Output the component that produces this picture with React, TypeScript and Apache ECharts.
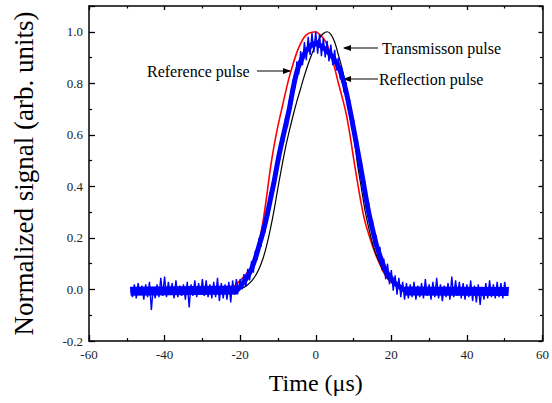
import React, { useEffect, useRef } from "react";
import * as echarts from "echarts";

// X axis ticks (µs)
const xTickMin = -60;
const xTickMax = 60;
const xTickStep = 20;
// Y axis ticks
const yTickMin = -0.2;
const yTickMax = 1.1;
const yTickStep = 0.2;

// Reference pulse (red)
const refTime = [-48.5, -24, -22, -21, -20, -19, -18, -17, -16, -15, -14, -13, -12, -11, -10, -9, -8, -7, -6, -5, -4, -3, -2, -1, 0, 1, 2, 3, 4, 5, 6, 7, 8, 9, 10, 11, 12, 13, 14, 15, 16, 17, 18, 19, 20, 21, 22, 23, 24, 50.5];
const refValue = [0, 0, 0.008, 0.02, 0.035, 0.05, 0.068, 0.09, 0.13, 0.185, 0.26, 0.36, 0.47, 0.56, 0.635, 0.7, 0.765, 0.825, 0.875, 0.92, 0.955, 0.98, 0.993, 0.998, 1.0, 0.99, 0.975, 0.95, 0.91, 0.86, 0.8, 0.745, 0.685, 0.605, 0.51, 0.42, 0.335, 0.265, 0.215, 0.17, 0.13, 0.097, 0.065, 0.042, 0.027, 0.017, 0.009, 0.003, 0, 0];

// Transmission pulse (black)
const transTime = [-48.5, -21, -20, -19, -18, -17, -16, -15, -14, -13, -12, -11, -10, -9, -8, -7, -6, -5, -4, -3, -2, -1, 0, 1, 2, 3, 4, 5, 6, 7, 8, 9, 10, 11, 12, 13, 14, 15, 16, 17, 18, 19, 20, 21, 22, 23, 50.5];
const transValue = [0, 0, 0.003, 0.008, 0.018, 0.032, 0.052, 0.08, 0.118, 0.17, 0.235, 0.31, 0.395, 0.475, 0.55, 0.615, 0.675, 0.73, 0.78, 0.83, 0.875, 0.915, 0.95, 0.975, 0.993, 1.0, 0.99, 0.96, 0.91, 0.855, 0.79, 0.71, 0.62, 0.49, 0.4, 0.31, 0.24, 0.18, 0.135, 0.1, 0.07, 0.045, 0.03, 0.015, 0.005, 0, 0];

// Reflection pulse (blue): mean trace read every 1 µs
const reflMeanTime = [-49, -21, -20, -19, -18, -17, -16, -15, -14, -13, -12, -11, -10, -9, -8, -7, -6, -5, -4, -3, -2, -1, 0, 1, 2, 3, 4, 5, 6, 7, 8, 9, 10, 11, 12, 13, 14, 15, 16, 17, 18, 19, 20, 21, 22, 23, 24, 51];
const reflMeanValue = [-0.006, -0.003, 0.01, 0.03, 0.05, 0.08, 0.12, 0.17, 0.22, 0.28, 0.35, 0.42, 0.5, 0.57, 0.635, 0.7, 0.78, 0.845, 0.885, 0.915, 0.935, 0.95, 0.955, 0.948, 0.938, 0.925, 0.91, 0.89, 0.865, 0.825, 0.77, 0.7, 0.625, 0.545, 0.465, 0.38, 0.3, 0.235, 0.175, 0.13, 0.09, 0.062, 0.042, 0.024, 0.012, 0.002, -0.006, -0.006];

// Baseline stretches of the reflection trace (thicker noise band)
const baseLeftTime = [-49, -20.5];
const baseLeftValue = [-0.007, -0.002];
const baseRightTime = [23.5, 51];
const baseRightValue = [-0.006, -0.008];

// Reflection pulse (blue, noisy), sampled every 0.5 µs from -49 µs
const reflStart = -49;
const reflStep = 0.5;
const reflValue = [
  0.01, -0.03, 0.02, -0.035, 0.025, -0.02, 0.015, -0.04, 0.02, -0.03,
  0.03, -0.08, 0.01, -0.035, 0.02, -0.03, 0.045, -0.025, 0.05, -0.03,
  0.03, -0.02, 0.025, -0.035, 0.035, -0.03, 0.015, -0.025, 0.02, -0.04,
  0.03, -0.07, 0.02, -0.025, 0.035, -0.03, 0.025, -0.02, 0.04, -0.025,
  0.035, -0.03, 0.02, -0.035, 0.03, -0.03, 0.045, -0.045, 0.025, -0.035,
  0.02, -0.04, 0.03, -0.05, 0.035, -0.02, 0.04, -0.01,
  0.04, 0.0, 0.06, 0.01, 0.08, 0.035, 0.11, 0.065, 0.15, 0.115,
  0.2, 0.165, 0.25, 0.22, 0.31, 0.285, 0.38, 0.355, 0.45, 0.43,
  0.53, 0.505, 0.6, 0.57, 0.665, 0.63, 0.735, 0.705, 0.815, 0.78,
  0.885, 0.835, 0.925, 0.87, 0.96, 0.89, 0.98, 0.91, 0.995, 0.92,
  1.0, 0.915, 0.99, 0.905, 0.975, 0.9, 0.965, 0.885, 0.95, 0.87,
  0.93, 0.85, 0.9, 0.815, 0.86, 0.765, 0.805, 0.7, 0.735, 0.625,
  0.66, 0.55, 0.58, 0.47, 0.5, 0.39, 0.42, 0.305, 0.335, 0.235,
  0.27, 0.17, 0.21, 0.115, 0.165, 0.075, 0.12, 0.04, 0.1, 0.02,
  0.075, -0.005, 0.055, -0.02, 0.045, -0.03, 0.03, -0.04,
  0.025, -0.035, 0.02, -0.03, 0.03, -0.04, 0.015, -0.03, 0.025, -0.035,
  0.04, -0.025, 0.02, -0.04, 0.03, -0.03, 0.045, -0.035, 0.02, -0.045,
  0.015, -0.03, 0.025, -0.04, 0.05, -0.03, 0.035, -0.025, 0.03, -0.035,
  0.025, -0.04, 0.02, -0.03, 0.035, -0.045, 0.015, -0.05, 0.02, -0.06,
  0.01, -0.04, 0.025, -0.035, 0.035, -0.03, 0.02, -0.035, 0.03, -0.03,
  0.025, -0.035, 0.03, -0.02, 0.01,
];

const labels = {
  xTitle: "Time (\u03bcs)",
  yTitle: "Normalized signal (arb. units)",
  transmission: "Transmisson pulse",
  reference: "Reference pulse",
  reflection: "Reflection pulse",
};

const FONT = "Liberation Serif, serif";

export default function App() {
  const ref = useRef<HTMLDivElement>(null);

  useEffect(() => {
    if (!ref.current) return;
    const chart = echarts.init(ref.current, undefined, { renderer: "svg" });

    const pairs = (ts: number[], vs: number[]) => ts.map((t, i) => [t, vs[i]]);
    const refData = pairs(refTime, refValue);
    const transData = pairs(transTime, transValue);
    const reflMeanData = pairs(reflMeanTime, reflMeanValue);
    const baseLeftData = pairs(baseLeftTime, baseLeftValue);
    const baseRightData = pairs(baseRightTime, baseRightValue);
    const reflData = reflValue.map((v, i) => [reflStart + i * reflStep, v]);

    const axisLine = { show: true, onZero: false, lineStyle: { color: "#000", width: 1.5 } };
    const axisTick = { show: true, inside: true, length: 6, lineStyle: { color: "#000", width: 1.3 } };
    const minorTick = { show: true, splitNumber: 2, length: 3, lineStyle: { color: "#000", width: 1.2 } };

    const fmtY = (v: number) => (Math.abs(v) < 1e-9 ? "0.0" : v.toFixed(1));

    const arrowLeft = (x: number, y: number) => ({
      type: "polygon",
      shape: { points: [[x, y], [x + 8, y - 3], [x + 8, y + 3]] },
      style: { fill: "#000" },
      silent: true,
    });
    const arrowRight = (x: number, y: number) => ({
      type: "polygon",
      shape: { points: [[x, y], [x - 8, y - 3], [x - 8, y + 3]] },
      style: { fill: "#000" },
      silent: true,
    });
    const hline = (x1: number, x2: number, y: number) => ({
      type: "line",
      shape: { x1, y1: y, x2, y2: y },
      style: { stroke: "#000", lineWidth: 1.2 },
      silent: true,
    });
    const txt = (x: number, y: number, text: string) => ({
      type: "text",
      x,
      y,
      style: { text, font: "16px " + FONT, fill: "#000", verticalAlign: "middle", align: "left" },
      silent: true,
    });

    const blueBand = (name: string, data: number[][], width: number, z: number) => ({
      name,
      type: "line",
      data,
      showSymbol: false,
      smooth: 0.3,
      lineStyle: { color: "#0000ff", width, cap: "butt", join: "round" },
      z,
    });

    chart.setOption({
      animation: false,
      backgroundColor: "#fff",
      textStyle: { fontFamily: FONT },
      grid: { left: 89, right: 8, top: 6, bottom: 62, containLabel: false },
      xAxis: [
        {
          type: "value",
          position: "bottom",
          min: xTickMin,
          max: xTickMax,
          interval: xTickStep,
          axisLine,
          axisTick,
          minorTick,
          splitLine: { show: false },
          axisLabel: { fontFamily: FONT, fontSize: 13, color: "#222", margin: 7 },
          name: labels.xTitle,
          nameLocation: "middle",
          nameGap: 30,
          nameTextStyle: { fontFamily: FONT, fontSize: 24, color: "#000" },
        },
        {
          type: "value",
          position: "top",
          min: xTickMin,
          max: xTickMax,
          interval: xTickStep,
          axisLine,
          axisTick: { ...axisTick, length: 4 },
          minorTick: { ...minorTick, length: 2.5 },
          splitLine: { show: false },
          axisLabel: { show: false },
        },
      ],
      yAxis: [
        {
          type: "value",
          position: "left",
          min: yTickMin,
          max: yTickMax,
          interval: yTickStep,
          axisLine,
          axisTick,
          minorTick,
          splitLine: { show: false },
          axisLabel: { fontFamily: FONT, fontSize: 13, color: "#222", margin: 6, formatter: fmtY, showMaxLabel: false },
          name: labels.yTitle,
          nameLocation: "middle",
          nameGap: 52,
          nameTextStyle: { fontFamily: FONT, fontSize: 27, color: "#000" },
        },
        {
          type: "value",
          position: "right",
          min: yTickMin,
          max: yTickMax,
          interval: yTickStep,
          axisLine,
          axisTick: { ...axisTick, length: 4 },
          minorTick: { ...minorTick, length: 2.5 },
          splitLine: { show: false },
          axisLabel: { show: false },
        },
      ],
      series: [
        {
          name: labels.reference,
          type: "line",
          data: refData,
          showSymbol: false,
          smooth: 0.3,
          lineStyle: { color: "#ff0000", width: 1.6 },
          z: 2,
        },
        {
          name: labels.transmission,
          type: "line",
          data: transData,
          showSymbol: false,
          smooth: 0.3,
          lineStyle: { color: "#000000", width: 1.2 },
          z: 3,
        },
        blueBand(labels.reflection + " band", reflMeanData, 5, 4),
        blueBand(labels.reflection + " left baseline", baseLeftData, 9, 4),
        blueBand(labels.reflection + " right baseline", baseRightData, 9, 4),
        {
          name: labels.reflection,
          type: "line",
          data: reflData,
          showSymbol: false,
          lineStyle: { color: "#0000ff", width: 1.4 },
          z: 5,
        },
      ],
      graphic: [
        txt(382, 48, labels.transmission),
        hline(344, 378, 48),
        arrowLeft(343, 48),
        txt(147, 71, labels.reference),
        hline(257, 290, 71),
        arrowRight(291, 71),
        txt(379, 79, labels.reflection),
        hline(344, 378, 79),
        arrowLeft(343, 79),
      ],
    });

    return () => chart.dispose();
  }, []);

  return (
    <div
      ref={ref}
      style={{ position: "fixed", left: 0, top: 0, width: 552, height: 403, background: "#fff" }}
    />
  );
}
